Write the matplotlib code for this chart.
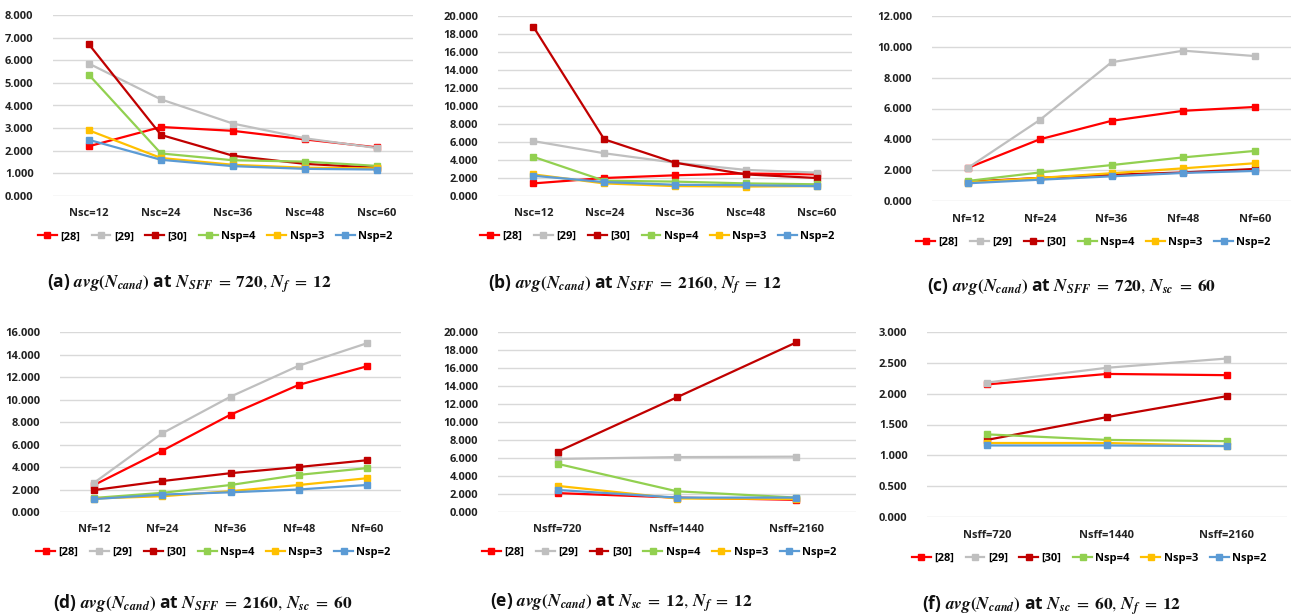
import matplotlib
matplotlib.use("Agg")
import matplotlib.pyplot as plt
import numpy as np

plt.rcParams['font.family'] = ['Open Sans', 'DejaVu Sans']
plt.rcParams['mathtext.fontset'] = 'stix'

series_names = ["[28]", "[29]", "[30]", "Nsp=4", "Nsp=3", "Nsp=2"]
colors = ["#FF0000", "#BFBFBF", "#C00000", "#92D050", "#FFC000", "#5B9BD5"]

nsc_labels = ["Nsc=12", "Nsc=24", "Nsc=36", "Nsc=48", "Nsc=60"]
nf_labels = ["Nf=12", "Nf=24", "Nf=36", "Nf=48", "Nf=60"]
nsff_labels = ["Nsff=720", "Nsff=1440", "Nsff=2160"]

# values per panel, rows follow series_names
vals_a = [[2.20, 3.05, 2.88, 2.50, 2.15],
          [5.85, 4.27, 3.20, 2.55, 2.12],
          [6.70, 2.70, 1.78, 1.42, 1.25],
          [5.35, 1.88, 1.58, 1.52, 1.33],
          [2.90, 1.68, 1.38, 1.25, 1.22],
          [2.48, 1.60, 1.32, 1.20, 1.17]]
vals_b = [[1.40, 2.00, 2.30, 2.50, 2.40],
          [6.10, 4.75, 3.70, 2.90, 2.60],
          [18.80, 6.30, 3.70, 2.40, 2.00],
          [4.35, 1.70, 1.60, 1.40, 1.30],
          [2.40, 1.40, 1.10, 1.05, 1.10],
          [2.25, 1.55, 1.25, 1.20, 1.10]]
vals_c = [[2.15, 4.00, 5.20, 5.85, 6.10],
          [2.15, 5.25, 9.00, 9.75, 9.40],
          [1.25, 1.50, 1.70, 1.85, 2.08],
          [1.30, 1.85, 2.33, 2.83, 3.25],
          [1.20, 1.50, 1.80, 2.12, 2.45],
          [1.15, 1.38, 1.60, 1.82, 1.95]]
vals_d = [[2.40, 5.45, 8.65, 11.30, 12.95],
          [2.60, 7.00, 10.25, 13.00, 15.00],
          [1.95, 2.75, 3.45, 4.00, 4.60],
          [1.25, 1.70, 2.40, 3.30, 3.90],
          [1.20, 1.40, 1.85, 2.40, 3.00],
          [1.15, 1.55, 1.75, 2.00, 2.40]]
vals_e = [[2.10, 1.60, 1.35],
          [5.90, 6.10, 6.15],
          [6.70, 12.75, 18.85],
          [5.35, 2.30, 1.60],
          [2.90, 1.50, 1.45],
          [2.45, 1.60, 1.60]]
vals_f = [[2.15, 2.32, 2.30],
          [2.18, 2.42, 2.57],
          [1.25, 1.62, 1.96],
          [1.34, 1.25, 1.23],
          [1.20, 1.20, 1.15],
          [1.16, 1.16, 1.15]]

avg = r"$\mathbfit{avg}\mathbf{(}\mathbfit{N}_{\mathbfit{cand}}\mathbf{)}$"
captions = [
    "(a) " + avg + r" at $\mathbfit{N}_{\mathbfit{SFF}}\;=\;\mathbf{720},\,\mathbfit{N}_{\mathbfit{f}}\;=\;\mathbf{12}$",
    "(b) " + avg + r" at $\mathbfit{N}_{\mathbfit{SFF}}\;=\;\mathbf{2160},\,\mathbfit{N}_{\mathbfit{f}}\;=\;\mathbf{12}$",
    "(c) " + avg + r" at $\mathbfit{N}_{\mathbfit{SFF}}\;=\;\mathbf{720},\,\mathbfit{N}_{\mathbfit{sc}}\;=\;\mathbf{60}$",
    "(d) " + avg + r" at $\mathbfit{N}_{\mathbfit{SFF}}\;=\;\mathbf{2160},\,\mathbfit{N}_{\mathbfit{sc}}\;=\;\mathbf{60}$",
    "(e) " + avg + r" at $\mathbfit{N}_{\mathbfit{sc}}\;=\;\mathbf{12},\,\mathbfit{N}_{\mathbfit{f}}\;=\;\mathbf{12}$",
    "(f) " + avg + r" at $\mathbfit{N}_{\mathbfit{sc}}\;=\;\mathbf{60},\,\mathbfit{N}_{\mathbfit{f}}\;=\;\mathbf{12}$",
]

W, H = 1295, 616
fig = plt.figure(figsize=(W / 100, H / 100), dpi=100)

# pixel boxes: left, right, top, bottom, ymax, ystep, caption centre x, caption y
panels = [
    (vals_a, nsc_labels, (53, 413, 15, 196), 8, 1, 189, 284),
    (vals_b, nsc_labels, (498, 852, 16, 196), 20, 2, 635, 284),
    (vals_c, nf_labels, (932, 1291, 16, 201), 12, 2, 1071, 287),
    (vals_d, nf_labels, (60, 401, 332, 512), 16, 2, 203, 603),
    (vals_e, nsff_labels, (498, 856, 332, 512), 20, 2, 621, 603),
    (vals_f, nsff_labels, (927, 1287, 332, 517), 3, 0.5, 1052, 605),
]

for (vals, cats, box, ymax, ystep, cx, cy), cap in zip(panels, captions):
    l, r, t, b = box
    ax = fig.add_axes([l / W, 1 - b / H, (r - l) / W, (b - t) / H])
    x = np.arange(len(cats))
    for name, col, ys in zip(series_names, colors, vals):
        ax.plot(x, ys, color=col, lw=1.6, marker='s', ms=4.2, label=name,
                clip_on=False)
    ax.set_xlim(-0.5, len(cats) - 0.5)
    ax.set_ylim(0, ymax)
    ticks = np.arange(0, ymax + ystep / 2, ystep)
    ax.set_yticks(ticks)
    ax.set_yticklabels([f"{v:.3f}" for v in ticks], fontsize=8,
                       fontweight='bold', color='#222222')
    ax.set_xticks(x)
    ax.set_xticklabels(cats, fontsize=8, fontweight='bold', color='#222222')
    ax.tick_params(length=0, axis='y', pad=14)
    ax.tick_params(length=0, axis='x', pad=9)
    ax.grid(axis='y', color='#D9D9D9', lw=1)
    ax.set_axisbelow(True)
    for s in ax.spines.values():
        s.set_visible(False)
    ax.legend(loc='upper center', bbox_to_anchor=(0.45, -0.14), ncol=6,
              frameon=False, handlelength=1.7, handletextpad=0.3,
              columnspacing=1.05, prop={'weight': 'bold', 'size': 8})
    fig.text(cx / W, 1 - cy / H, cap, ha='center', va='center',
             fontsize=12.5, fontweight='bold', color='#111111')

fig.savefig("out.png", dpi=100)
